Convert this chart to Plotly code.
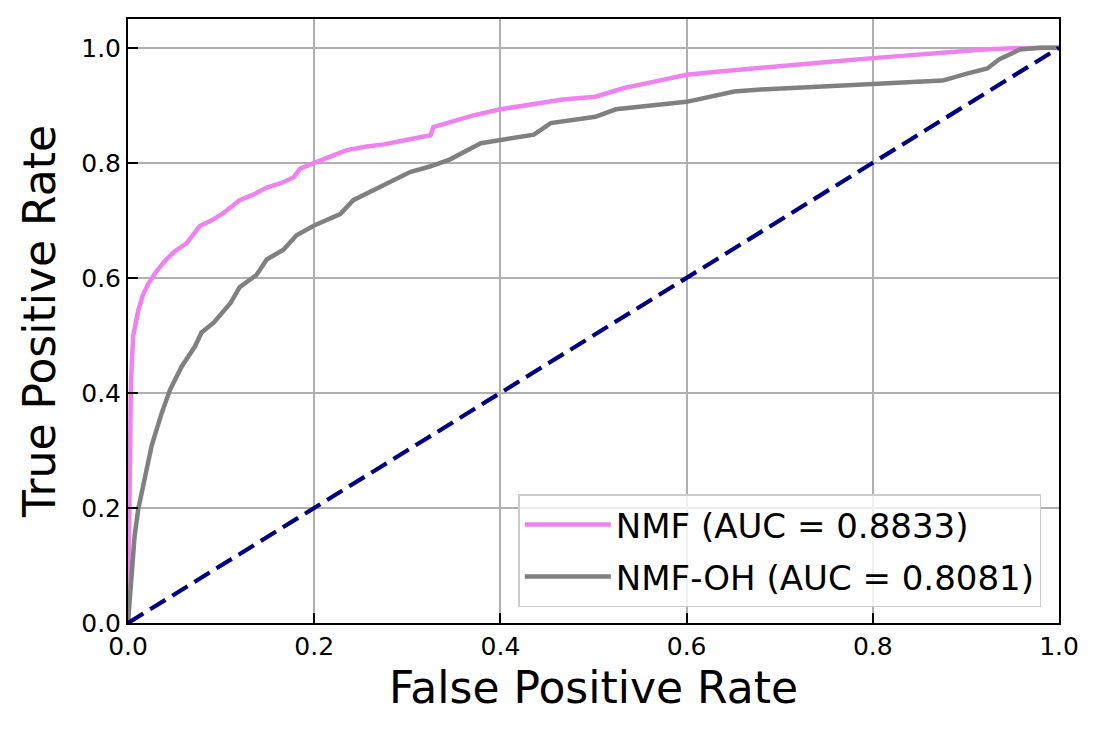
import plotly.graph_objects as go

# ROC curve data
nmf_fpr = [0, 0.0005, 0.001, 0.002, 0.003, 0.004, 0.0057, 0.011, 0.016, 0.022, 0.03, 0.04, 0.05,
           0.063, 0.077, 0.09, 0.102, 0.12, 0.135, 0.149, 0.165, 0.178, 0.185, 0.2, 0.22, 0.235,
           0.255, 0.275, 0.3, 0.325, 0.328, 0.346, 0.37, 0.4, 0.43, 0.467, 0.502, 0.533, 0.577,
           0.6, 0.63, 0.669, 0.7, 0.73, 0.77, 0.8, 0.84, 0.884, 0.92, 0.95, 1.0]
nmf_tpr = [0, 0.1, 0.2, 0.3, 0.4, 0.45, 0.5, 0.543, 0.57, 0.59, 0.61, 0.63, 0.646,
           0.66, 0.69, 0.70, 0.712, 0.735, 0.745, 0.757, 0.765, 0.775, 0.79, 0.80, 0.812, 0.822,
           0.828, 0.832, 0.84, 0.848, 0.862, 0.87, 0.882, 0.893, 0.90, 0.91, 0.915, 0.93, 0.945,
           0.953, 0.958, 0.964, 0.968, 0.972, 0.978, 0.982, 0.987, 0.994, 0.997, 0.999, 1.0]

oh_fpr = [0, 0.002, 0.004, 0.007, 0.011, 0.0165, 0.0255, 0.036, 0.045, 0.0577, 0.072, 0.079,
          0.092, 0.11, 0.12, 0.138, 0.149, 0.167, 0.181, 0.2, 0.228, 0.242, 0.26, 0.282, 0.303,
          0.325, 0.346, 0.379, 0.4, 0.436, 0.454, 0.502, 0.524, 0.6, 0.651, 0.686, 0.8, 0.875,
          0.901, 0.923, 0.936, 0.958, 0.98, 1.0]
oh_tpr = [0, 0.05, 0.10, 0.15, 0.198, 0.24, 0.309, 0.364, 0.405, 0.446, 0.481, 0.505,
          0.522, 0.556, 0.584, 0.605, 0.632, 0.649, 0.674, 0.691, 0.711, 0.735, 0.749, 0.767, 0.784,
          0.794, 0.806, 0.834, 0.839, 0.849, 0.869, 0.88, 0.893, 0.906, 0.924, 0.928, 0.937, 0.943,
          0.955, 0.964, 0.98, 0.997, 1.0, 1.0]

chance_x = [0, 1]
chance_y = [0, 1]

names = ["NMF (AUC = 0.8833)", "NMF-OH (AUC = 0.8081)"]
tick_vals = [0.0, 0.2, 0.4, 0.6, 0.8, 1.0]
tick_text = ["0.0", "0.2", "0.4", "0.6", "0.8", "1.0"]

FONT = "DejaVu Sans"

fig = go.Figure()
fig.add_trace(go.Scatter(x=nmf_fpr, y=nmf_tpr, mode="lines", name=names[0], legendgroup="a",
                         line=dict(color="#EE82EE", width=4.5)))
fig.add_trace(go.Scatter(x=oh_fpr, y=oh_tpr, mode="lines", name=names[1], legendgroup="b",
                         line=dict(color="#808080", width=4.5)))
fig.add_trace(go.Scatter(x=chance_x, y=chance_y, mode="lines", showlegend=False,
                         line=dict(color="#000080", width=4.2, dash="18px,8px")))

axis_common = dict(
    showline=True, mirror=True, linecolor="black", linewidth=2,
    ticks="inside", ticklen=10, tickwidth=2, tickcolor="black",
    showgrid=True, gridcolor="#b0b0b0", gridwidth=1.6, zeroline=False,
    tickvals=tick_vals, ticktext=tick_text,
    tickfont=dict(family=FONT, size=25, color="black"),
)

fig.update_layout(
    width=1100, height=735,
    margin=dict(l=128, r=41, t=19, b=112),
    paper_bgcolor="white", plot_bgcolor="white",
    font=dict(family=FONT, color="black"),
    xaxis=dict(range=[0, 1], title=dict(text="False Positive Rate",
                                        font=dict(family=FONT, size=44), standoff=12),
               **axis_common),
    yaxis=dict(range=[0, 1.05], title=dict(text="True Positive Rate",
                                           font=dict(family=FONT, size=44), standoff=12),
               **axis_common),
    legend=dict(x=0.981, y=0.026, xanchor="right", yanchor="bottom",
                font=dict(family=FONT, size=34, color="black"),
                bgcolor="rgba(255,255,255,0.8)", bordercolor="#cccccc", borderwidth=1.5,
                itemwidth=86, tracegroupgap=5),
    showlegend=True,
)

fig.write_html("out.html", config={"displayModeBar": False},
               post_script="document.body.style.margin='0';")
